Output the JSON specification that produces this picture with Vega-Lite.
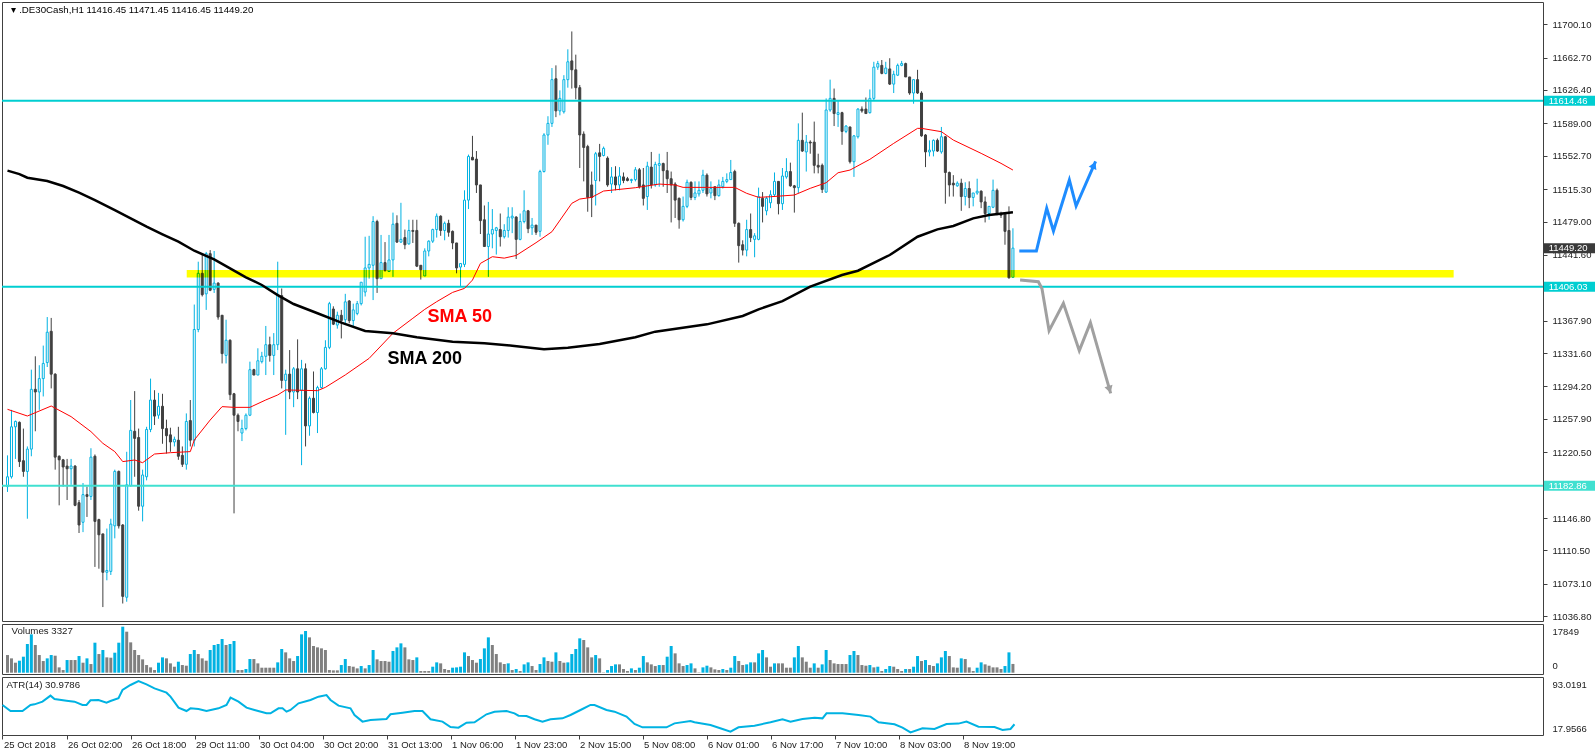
{
"$schema":"https://vega.github.io/schema/vega-lite/v6.json",
"background":"white",
"padding":{"left":-2,"top":1,"right":0,"bottom":0},
"spacing":3,
"bounds":"flush",
"config":{"font":"Liberation Sans","view":{"stroke":"#404040","strokeWidth":1},"axis":{"labelFont":"Liberation Sans","labelColor":"#1a1a1a"}},
"datasets":{
"candles":[
{"i":0,"o":11182,"h":11217,"l":11176,"c":11193,"v":6715},
{"i":1,"o":11193,"h":11268,"l":11191,"c":11249,"v":5448},
{"i":2,"o":11249,"h":11256,"l":11213,"c":11255,"v":3801},
{"i":3,"o":11254,"h":11255,"l":11204,"c":11210,"v":4561},
{"i":4,"o":11211,"h":11247,"l":11193,"c":11199,"v":6082},
{"i":5,"o":11199,"h":11227,"l":11146,"c":11224,"v":10896},
{"i":6,"o":11224,"h":11313,"l":11216,"c":11291,"v":14571},
{"i":7,"o":11291,"h":11328,"l":11244,"c":11288,"v":10516},
{"i":8,"o":11288,"h":11318,"l":11268,"c":11303,"v":6715},
{"i":9,"o":11303,"h":11340,"l":11283,"c":11320,"v":4435},
{"i":10,"o":11321,"h":11372,"l":11316,"c":11355,"v":5448},
{"i":11,"o":11356,"h":11371,"l":11292,"c":11308,"v":6715},
{"i":12,"o":11308,"h":11309,"l":11201,"c":11215,"v":6462},
{"i":13,"o":11216,"h":11217,"l":11161,"c":11212,"v":2027},
{"i":14,"o":11212,"h":11213,"l":11182,"c":11204,"v":1014},
{"i":15,"o":11205,"h":11213,"l":11167,"c":11202,"v":4815},
{"i":16,"o":11202,"h":11213,"l":11184,"c":11205,"v":4815},
{"i":17,"o":11205,"h":11206,"l":11160,"c":11161,"v":4815},
{"i":18,"o":11164,"h":11167,"l":11130,"c":11139,"v":6335},
{"i":19,"o":11142,"h":11186,"l":11131,"c":11173,"v":3801},
{"i":20,"o":11173,"h":11182,"l":11148,"c":11171,"v":5448},
{"i":21,"o":11171,"h":11225,"l":11167,"c":11215,"v":3294},
{"i":22,"o":11216,"h":11218,"l":11092,"c":11143,"v":11403},
{"i":23,"o":11145,"h":11146,"l":11090,"c":11128,"v":7095},
{"i":24,"o":11129,"h":11129,"l":11047,"c":11086,"v":8616},
{"i":25,"o":11086,"h":11135,"l":11077,"c":11088,"v":5828},
{"i":26,"o":11087,"h":11146,"l":11083,"c":11140,"v":5702},
{"i":27,"o":11138,"h":11201,"l":11124,"c":11199,"v":7602},
{"i":28,"o":11199,"h":11200,"l":11135,"c":11138,"v":11403},
{"i":29,"o":11139,"h":11140,"l":11051,"c":11059,"v":17485},
{"i":30,"o":11058,"h":11221,"l":11053,"c":11184,"v":15584},
{"i":31,"o":11183,"h":11279,"l":11182,"c":11245,"v":11530},
{"i":32,"o":11244,"h":11289,"l":11193,"c":11236,"v":8616},
{"i":33,"o":11237,"h":11247,"l":11155,"c":11160,"v":6715},
{"i":34,"o":11160,"h":11201,"l":11143,"c":11195,"v":5068},
{"i":35,"o":11193,"h":11249,"l":11189,"c":11246,"v":2914},
{"i":36,"o":11246,"h":11303,"l":11243,"c":11279,"v":2027},
{"i":37,"o":11279,"h":11290,"l":11251,"c":11261,"v":1014},
{"i":38,"o":11262,"h":11287,"l":11258,"c":11272,"v":3801},
{"i":39,"o":11272,"h":11286,"l":11230,"c":11247,"v":5828},
{"i":40,"o":11247,"h":11257,"l":11219,"c":11239,"v":5448},
{"i":41,"o":11240,"h":11248,"l":11221,"c":11232,"v":3548},
{"i":42,"o":11232,"h":11238,"l":11227,"c":11235,"v":2281},
{"i":43,"o":11234,"h":11249,"l":11212,"c":11216,"v":4181},
{"i":44,"o":11217,"h":11227,"l":11204,"c":11207,"v":2914},
{"i":45,"o":11207,"h":11264,"l":11201,"c":11255,"v":2661},
{"i":46,"o":11256,"h":11279,"l":11227,"c":11234,"v":7095},
{"i":47,"o":11234,"h":11386,"l":11227,"c":11358,"v":8616},
{"i":48,"o":11358,"h":11434,"l":11355,"c":11421,"v":7095},
{"i":49,"o":11421,"h":11443,"l":11395,"c":11397,"v":5448},
{"i":50,"o":11398,"h":11445,"l":11380,"c":11443,"v":4561},
{"i":51,"o":11443,"h":11447,"l":11401,"c":11402,"v":8616},
{"i":52,"o":11403,"h":11446,"l":11399,"c":11410,"v":10516},
{"i":53,"o":11410,"h":11411,"l":11369,"c":11372,"v":10896},
{"i":54,"o":11374,"h":11374,"l":11320,"c":11331,"v":12797},
{"i":55,"o":11329,"h":11369,"l":11320,"c":11346,"v":10516},
{"i":56,"o":11346,"h":11347,"l":11279,"c":11285,"v":10896},
{"i":57,"o":11286,"h":11287,"l":11152,"c":11262,"v":12037},
{"i":58,"o":11262,"h":11264,"l":11244,"c":11255,"v":1014},
{"i":59,"o":11242,"h":11257,"l":11233,"c":11247,"v":1014},
{"i":60,"o":11247,"h":11264,"l":11245,"c":11262,"v":1394},
{"i":61,"o":11262,"h":11322,"l":11261,"c":11313,"v":5195},
{"i":62,"o":11313,"h":11314,"l":11307,"c":11307,"v":5195},
{"i":63,"o":11307,"h":11337,"l":11307,"c":11323,"v":3548},
{"i":64,"o":11322,"h":11333,"l":11320,"c":11328,"v":1901},
{"i":65,"o":11328,"h":11362,"l":11307,"c":11341,"v":1901},
{"i":66,"o":11341,"h":11350,"l":11322,"c":11329,"v":1901},
{"i":67,"o":11329,"h":11354,"l":11307,"c":11341,"v":1901},
{"i":68,"o":11341,"h":11434,"l":11335,"c":11397,"v":3928},
{"i":69,"o":11396,"h":11404,"l":11292,"c":11301,"v":8996},
{"i":70,"o":11301,"h":11313,"l":11240,"c":11308,"v":7729},
{"i":71,"o":11308,"h":11335,"l":11280,"c":11288,"v":5448},
{"i":72,"o":11288,"h":11316,"l":11271,"c":11314,"v":4435},
{"i":73,"o":11314,"h":11347,"l":11280,"c":11288,"v":6335},
{"i":74,"o":11290,"h":11324,"l":11206,"c":11314,"v":14571},
{"i":75,"o":11314,"h":11320,"l":11227,"c":11250,"v":15838},
{"i":76,"o":11250,"h":11283,"l":11239,"c":11281,"v":13430},
{"i":77,"o":11281,"h":11311,"l":11264,"c":11265,"v":10136},
{"i":78,"o":11265,"h":11295,"l":11242,"c":11293,"v":9629},
{"i":79,"o":11293,"h":11316,"l":11292,"c":11314,"v":9249},
{"i":80,"o":11314,"h":11346,"l":11313,"c":11338,"v":8616},
{"i":81,"o":11338,"h":11389,"l":11336,"c":11387,"v":1014},
{"i":82,"o":11381,"h":11384,"l":11363,"c":11364,"v":887},
{"i":83,"o":11363,"h":11378,"l":11359,"c":11374,"v":887},
{"i":84,"o":11374,"h":11380,"l":11348,"c":11368,"v":2914},
{"i":85,"o":11369,"h":11398,"l":11365,"c":11389,"v":5195},
{"i":86,"o":11390,"h":11391,"l":11365,"c":11368,"v":2534},
{"i":87,"o":11368,"h":11387,"l":11361,"c":11380,"v":2281},
{"i":88,"o":11376,"h":11390,"l":11374,"c":11387,"v":1647},
{"i":89,"o":11387,"h":11411,"l":11385,"c":11411,"v":2534},
{"i":90,"o":11400,"h":11462,"l":11395,"c":11427,"v":1647},
{"i":91,"o":11427,"h":11463,"l":11415,"c":11431,"v":2914},
{"i":92,"o":11430,"h":11485,"l":11391,"c":11479,"v":8616},
{"i":93,"o":11479,"h":11481,"l":11399,"c":11415,"v":5068},
{"i":94,"o":11415,"h":11464,"l":11415,"c":11433,"v":4435},
{"i":95,"o":11433,"h":11456,"l":11423,"c":11424,"v":4435},
{"i":96,"o":11423,"h":11464,"l":11423,"c":11436,"v":4181},
{"i":97,"o":11436,"h":11489,"l":11417,"c":11476,"v":8236},
{"i":98,"o":11477,"h":11486,"l":11455,"c":11456,"v":9629},
{"i":99,"o":11456,"h":11500,"l":11455,"c":11459,"v":11150},
{"i":100,"o":11461,"h":11470,"l":11448,"c":11453,"v":9629},
{"i":101,"o":11454,"h":11481,"l":11453,"c":11469,"v":5068},
{"i":102,"o":11469,"h":11481,"l":11455,"c":11468,"v":4815},
{"i":103,"o":11469,"h":11481,"l":11428,"c":11429,"v":5828},
{"i":104,"o":11430,"h":11430,"l":11414,"c":11425,"v":634},
{"i":105,"o":11418,"h":11449,"l":11418,"c":11446,"v":634},
{"i":106,"o":11446,"h":11458,"l":11440,"c":11457,"v":634},
{"i":107,"o":11457,"h":11471,"l":11455,"c":11470,"v":2281},
{"i":108,"o":11470,"h":11488,"l":11461,"c":11485,"v":3928},
{"i":109,"o":11485,"h":11486,"l":11463,"c":11469,"v":3548},
{"i":110,"o":11469,"h":11479,"l":11458,"c":11477,"v":1394},
{"i":111,"o":11477,"h":11481,"l":11462,"c":11467,"v":1014},
{"i":112,"o":11468,"h":11469,"l":11448,"c":11455,"v":1901},
{"i":113,"o":11455,"h":11455,"l":11421,"c":11427,"v":2027},
{"i":114,"o":11428,"h":11432,"l":11406,"c":11432,"v":2281},
{"i":115,"o":11431,"h":11514,"l":11428,"c":11503,"v":7729},
{"i":116,"o":11503,"h":11554,"l":11493,"c":11552,"v":6335},
{"i":117,"o":11551,"h":11575,"l":11548,"c":11548,"v":4815},
{"i":118,"o":11549,"h":11558,"l":11511,"c":11520,"v":3801},
{"i":119,"o":11520,"h":11520,"l":11465,"c":11480,"v":5195},
{"i":120,"o":11481,"h":11497,"l":11451,"c":11451,"v":9249},
{"i":121,"o":11451,"h":11501,"l":11417,"c":11465,"v":13430},
{"i":122,"o":11465,"h":11493,"l":11449,"c":11470,"v":10516},
{"i":123,"o":11469,"h":11473,"l":11442,"c":11472,"v":7095},
{"i":124,"o":11470,"h":11488,"l":11451,"c":11462,"v":3928},
{"i":125,"o":11462,"h":11476,"l":11460,"c":11469,"v":3294},
{"i":126,"o":11469,"h":11495,"l":11461,"c":11484,"v":3548},
{"i":127,"o":11483,"h":11495,"l":11466,"c":11485,"v":1014},
{"i":128,"o":11484,"h":11485,"l":11437,"c":11459,"v":1394},
{"i":129,"o":11459,"h":11488,"l":11458,"c":11479,"v":634},
{"i":130,"o":11479,"h":11514,"l":11477,"c":11491,"v":3168},
{"i":131,"o":11491,"h":11492,"l":11466,"c":11471,"v":3928},
{"i":132,"o":11472,"h":11483,"l":11464,"c":11475,"v":2534},
{"i":133,"o":11475,"h":11475,"l":11464,"c":11467,"v":1014},
{"i":134,"o":11468,"h":11537,"l":11462,"c":11535,"v":3294},
{"i":135,"o":11535,"h":11578,"l":11534,"c":11576,"v":5828},
{"i":136,"o":11576,"h":11597,"l":11565,"c":11589,"v":4435},
{"i":137,"o":11589,"h":11651,"l":11585,"c":11638,"v":4181},
{"i":138,"o":11639,"h":11654,"l":11596,"c":11603,"v":7729},
{"i":139,"o":11603,"h":11626,"l":11598,"c":11617,"v":4435},
{"i":140,"o":11602,"h":11643,"l":11600,"c":11638,"v":3801},
{"i":141,"o":11638,"h":11672,"l":11629,"c":11658,"v":3928},
{"i":142,"o":11659,"h":11692,"l":11628,"c":11649,"v":7095},
{"i":143,"o":11649,"h":11666,"l":11616,"c":11629,"v":8996},
{"i":144,"o":11629,"h":11632,"l":11539,"c":11576,"v":13050},
{"i":145,"o":11577,"h":11580,"l":11524,"c":11562,"v":12417},
{"i":146,"o":11563,"h":11565,"l":11490,"c":11506,"v":9629},
{"i":147,"o":11520,"h":11535,"l":11484,"c":11506,"v":5828},
{"i":148,"o":11525,"h":11557,"l":11497,"c":11555,"v":6715},
{"i":149,"o":11556,"h":11566,"l":11524,"c":11552,"v":5448},
{"i":150,"o":11553,"h":11563,"l":11552,"c":11561,"v":127},
{"i":151,"o":11550,"h":11552,"l":11518,"c":11520,"v":1014},
{"i":152,"o":11521,"h":11540,"l":11511,"c":11529,"v":2534},
{"i":153,"o":11529,"h":11541,"l":11514,"c":11520,"v":3168},
{"i":154,"o":11520,"h":11540,"l":11514,"c":11530,"v":3168},
{"i":155,"o":11529,"h":11534,"l":11522,"c":11525,"v":1394},
{"i":156,"o":11527,"h":11529,"l":11524,"c":11525,"v":634},
{"i":157,"o":11525,"h":11527,"l":11522,"c":11526,"v":1647},
{"i":158,"o":11526,"h":11540,"l":11524,"c":11537,"v":1014},
{"i":159,"o":11537,"h":11539,"l":11516,"c":11518,"v":1901},
{"i":160,"o":11520,"h":11539,"l":11497,"c":11505,"v":6335},
{"i":161,"o":11507,"h":11546,"l":11492,"c":11541,"v":3928},
{"i":162,"o":11540,"h":11557,"l":11516,"c":11520,"v":3168},
{"i":163,"o":11520,"h":11546,"l":11518,"c":11543,"v":2534},
{"i":164,"o":11542,"h":11555,"l":11518,"c":11544,"v":2914},
{"i":165,"o":11544,"h":11545,"l":11518,"c":11536,"v":2914},
{"i":166,"o":11536,"h":11557,"l":11511,"c":11527,"v":6082},
{"i":167,"o":11527,"h":11535,"l":11478,"c":11520,"v":10136},
{"i":168,"o":11521,"h":11523,"l":11483,"c":11503,"v":7349},
{"i":169,"o":11505,"h":11506,"l":11471,"c":11481,"v":3548},
{"i":170,"o":11481,"h":11507,"l":11479,"c":11496,"v":2534},
{"i":171,"o":11496,"h":11526,"l":11494,"c":11523,"v":2914},
{"i":172,"o":11523,"h":11524,"l":11503,"c":11506,"v":3548},
{"i":173,"o":11506,"h":11524,"l":11503,"c":11511,"v":1647},
{"i":174,"o":11510,"h":11524,"l":11507,"c":11514,"v":127},
{"i":175,"o":11514,"h":11537,"l":11511,"c":11531,"v":2027},
{"i":176,"o":11531,"h":11533,"l":11507,"c":11510,"v":2661},
{"i":177,"o":11511,"h":11524,"l":11505,"c":11516,"v":2027},
{"i":178,"o":11518,"h":11518,"l":11503,"c":11508,"v":1267},
{"i":179,"o":11508,"h":11526,"l":11507,"c":11520,"v":1014},
{"i":180,"o":11518,"h":11529,"l":11516,"c":11524,"v":1394},
{"i":181,"o":11524,"h":11533,"l":11522,"c":11526,"v":1014},
{"i":182,"o":11526,"h":11548,"l":11526,"c":11534,"v":1901},
{"i":183,"o":11535,"h":11537,"l":11473,"c":11477,"v":6335},
{"i":184,"o":11477,"h":11478,"l":11433,"c":11452,"v":4435},
{"i":185,"o":11453,"h":11458,"l":11441,"c":11447,"v":2914},
{"i":186,"o":11447,"h":11481,"l":11440,"c":11470,"v":3168},
{"i":187,"o":11470,"h":11488,"l":11456,"c":11461,"v":3928},
{"i":188,"o":11459,"h":11466,"l":11439,"c":11463,"v":3928},
{"i":189,"o":11459,"h":11517,"l":11458,"c":11507,"v":7349},
{"i":190,"o":11505,"h":11512,"l":11478,"c":11496,"v":8616},
{"i":191,"o":11491,"h":11507,"l":11486,"c":11505,"v":5828},
{"i":192,"o":11500,"h":11514,"l":11494,"c":11509,"v":2281},
{"i":193,"o":11509,"h":11534,"l":11507,"c":11524,"v":3548},
{"i":194,"o":11524,"h":11524,"l":11487,"c":11499,"v":3548},
{"i":195,"o":11499,"h":11539,"l":11492,"c":11530,"v":3548},
{"i":196,"o":11529,"h":11550,"l":11527,"c":11535,"v":1901},
{"i":197,"o":11535,"h":11545,"l":11518,"c":11519,"v":1901},
{"i":198,"o":11519,"h":11520,"l":11489,"c":11517,"v":5828},
{"i":199,"o":11517,"h":11589,"l":11511,"c":11570,"v":10136},
{"i":200,"o":11570,"h":11601,"l":11557,"c":11558,"v":5828},
{"i":201,"o":11557,"h":11576,"l":11535,"c":11568,"v":4181},
{"i":202,"o":11568,"h":11570,"l":11555,"c":11567,"v":1901},
{"i":203,"o":11568,"h":11591,"l":11533,"c":11542,"v":3548},
{"i":204,"o":11542,"h":11555,"l":11533,"c":11540,"v":1901},
{"i":205,"o":11542,"h":11544,"l":11511,"c":11515,"v":3168},
{"i":206,"o":11512,"h":11617,"l":11511,"c":11604,"v":8616},
{"i":207,"o":11604,"h":11638,"l":11602,"c":11617,"v":4815},
{"i":208,"o":11617,"h":11628,"l":11586,"c":11600,"v":3548},
{"i":209,"o":11599,"h":11615,"l":11585,"c":11601,"v":3294},
{"i":210,"o":11601,"h":11602,"l":11565,"c":11580,"v":3294},
{"i":211,"o":11580,"h":11587,"l":11578,"c":11586,"v":3294},
{"i":212,"o":11585,"h":11585,"l":11544,"c":11546,"v":6715},
{"i":213,"o":11546,"h":11576,"l":11529,"c":11575,"v":8236},
{"i":214,"o":11574,"h":11606,"l":11572,"c":11605,"v":6715},
{"i":215,"o":11605,"h":11608,"l":11601,"c":11603,"v":2914},
{"i":216,"o":11605,"h":11618,"l":11600,"c":11600,"v":2661},
{"i":217,"o":11601,"h":11627,"l":11600,"c":11617,"v":2914},
{"i":218,"o":11617,"h":11658,"l":11615,"c":11652,"v":2027},
{"i":219,"o":11652,"h":11659,"l":11649,"c":11656,"v":2281},
{"i":220,"o":11654,"h":11660,"l":11644,"c":11645,"v":634},
{"i":221,"o":11645,"h":11658,"l":11644,"c":11651,"v":1394},
{"i":222,"o":11650,"h":11662,"l":11632,"c":11633,"v":2534},
{"i":223,"o":11633,"h":11648,"l":11623,"c":11644,"v":2281},
{"i":224,"o":11643,"h":11656,"l":11642,"c":11654,"v":1394},
{"i":225,"o":11654,"h":11659,"l":11653,"c":11656,"v":634},
{"i":226,"o":11656,"h":11657,"l":11641,"c":11641,"v":1394},
{"i":227,"o":11641,"h":11641,"l":11621,"c":11623,"v":1394},
{"i":228,"o":11623,"h":11638,"l":11611,"c":11638,"v":2281},
{"i":229,"o":11638,"h":11649,"l":11622,"c":11623,"v":6335},
{"i":230,"o":11623,"h":11625,"l":11574,"c":11575,"v":4435},
{"i":231,"o":11576,"h":11577,"l":11540,"c":11557,"v":4815},
{"i":232,"o":11557,"h":11570,"l":11552,"c":11559,"v":2914},
{"i":233,"o":11558,"h":11571,"l":11552,"c":11570,"v":2534},
{"i":234,"o":11570,"h":11572,"l":11557,"c":11558,"v":3548},
{"i":235,"o":11557,"h":11585,"l":11555,"c":11574,"v":5828},
{"i":236,"o":11574,"h":11575,"l":11499,"c":11534,"v":8236},
{"i":237,"o":11534,"h":11535,"l":11507,"c":11520,"v":6335},
{"i":238,"o":11522,"h":11531,"l":11507,"c":11520,"v":2027},
{"i":239,"o":11519,"h":11524,"l":11518,"c":11522,"v":1901},
{"i":240,"o":11522,"h":11527,"l":11491,"c":11507,"v":5448},
{"i":241,"o":11507,"h":11523,"l":11497,"c":11516,"v":5195},
{"i":242,"o":11516,"h":11524,"l":11494,"c":11506,"v":2027},
{"i":243,"o":11506,"h":11511,"l":11496,"c":11511,"v":634},
{"i":244,"o":11511,"h":11527,"l":11509,"c":11513,"v":1901},
{"i":245,"o":11513,"h":11514,"l":11494,"c":11501,"v":3928},
{"i":246,"o":11501,"h":11507,"l":11478,"c":11488,"v":3168},
{"i":247,"o":11488,"h":11496,"l":11481,"c":11496,"v":2661},
{"i":248,"o":11495,"h":11526,"l":11494,"c":11514,"v":2027},
{"i":249,"o":11514,"h":11516,"l":11486,"c":11488,"v":2027},
{"i":250,"o":11488,"h":11490,"l":11483,"c":11486,"v":1394},
{"i":251,"o":11488,"h":11488,"l":11453,"c":11468,"v":2534},
{"i":252,"o":11469,"h":11496,"l":11415,"c":11416,"v":7729},
{"i":253,"o":11416.45,"h":11471.45,"l":11416.45,"c":11449.2,"v":3327}
],
"sma50":[
{"i":0,"p":11268.6},{"i":5,"p":11261.1},{"i":11,"p":11272.3},{"i":16,"p":11260.4},{"i":21,"p":11243.6},{"i":24,"p":11230.5},{"i":27,"p":11221.2},{"i":29,"p":11210.0},{"i":32,"p":11211.8},{"i":34,"p":11208.8},{"i":37,"p":11218.5},{"i":41,"p":11220.0},{"i":46,"p":11221.2},{"i":47,"p":11234.2},{"i":51,"p":11256.6},{"i":54,"p":11271.6},{"i":57,"p":11270.8},{"i":61,"p":11270.8},{"i":65,"p":11279.1},{"i":68,"p":11284.7},{"i":70,"p":11290.3},{"i":78,"p":11289.5},{"i":80,"p":11293.2},{"i":85,"p":11307.1},{"i":91,"p":11325.7},{"i":97,"p":11353.8},{"i":102,"p":11370.6},{"i":105,"p":11380.6},{"i":108,"p":11389.2},{"i":112,"p":11399.6},{"i":115,"p":11404.1},{"i":117,"p":11413.4},{"i":119,"p":11432.1},{"i":122,"p":11439.6},{"i":125,"p":11438.0},{"i":128,"p":11441.0},{"i":133,"p":11455.3},{"i":137,"p":11467.6},{"i":142,"p":11499.4},{"i":144,"p":11504.2},{"i":147,"p":11506.1},{"i":150,"p":11513.2},{"i":158,"p":11516.9},{"i":164,"p":11521.0},{"i":168,"p":11519.9},{"i":170,"p":11517.3},{"i":183,"p":11517.3},{"i":186,"p":11510.6},{"i":189,"p":11506.1},{"i":192,"p":11506.8},{"i":198,"p":11508.7},{"i":202,"p":11516.2},{"i":206,"p":11522.5},{"i":209,"p":11533.7},{"i":212,"p":11536.7},{"i":217,"p":11548.7},{"i":223,"p":11566.6},{"i":229,"p":11583.4},{"i":230,"p":11583.4},{"i":235,"p":11579.7},{"i":238,"p":11570.3},{"i":245,"p":11555.4},{"i":250,"p":11544.2},{"i":253,"p":11536.7}
],
"sma200":[
{"i":0,"p":11536.0},{"i":3,"p":11532.2},{"i":5,"p":11528.1},{"i":10,"p":11524.4},{"i":14,"p":11518.8},{"i":18,"p":11511.3},{"i":22,"p":11503.1},{"i":27,"p":11491.9},{"i":31,"p":11482.6},{"i":35,"p":11473.2},{"i":39,"p":11464.6},{"i":43,"p":11456.4},{"i":47,"p":11446.3},{"i":52,"p":11436.6},{"i":56,"p":11426.5},{"i":60,"p":11416.5},{"i":64,"p":11407.9},{"i":68,"p":11396.6},{"i":72,"p":11386.6},{"i":78,"p":11376.2},{"i":84,"p":11365.7},{"i":90,"p":11356.4},{"i":97,"p":11353.8},{"i":103,"p":11349.3},{"i":112,"p":11344.4},{"i":120,"p":11342.5},{"i":127,"p":11339.9},{"i":135,"p":11335.8},{"i":141,"p":11337.7},{"i":149,"p":11341.8},{"i":158,"p":11349.3},{"i":163,"p":11355.6},{"i":176,"p":11363.8},{"i":185,"p":11373.2},{"i":189,"p":11380.6},{"i":195,"p":11389.9},{"i":202,"p":11406.0},{"i":210,"p":11419.1},{"i":214,"p":11423.9},{"i":222,"p":11441.5},{"i":229,"p":11462.0},{"i":234,"p":11470.2},{"i":238,"p":11474.0},{"i":243,"p":11482.6},{"i":247,"p":11486.3},{"i":252,"p":11488.9},{"i":253,"p":11489.5}
],
"atr":[
{"i":0,"a":58.1},{"i":2,"a":49.3},{"i":5,"a":49.3},{"i":7,"a":58.1},{"i":8,"a":59.0},{"i":10,"a":62.9},{"i":12,"a":71.7},{"i":13,"a":66.8},{"i":16,"a":64.4},{"i":18,"a":62.9},{"i":20,"a":58.1},{"i":21,"a":58.1},{"i":22,"a":64.9},{"i":24,"a":65.4},{"i":26,"a":61.5},{"i":27,"a":63.9},{"i":29,"a":67.8},{"i":30,"a":79.9},{"i":32,"a":87.2},{"i":34,"a":93.0},{"i":36,"a":88.2},{"i":38,"a":82.3},{"i":41,"a":76.0},{"i":42,"a":70.2},{"i":44,"a":54.2},{"i":46,"a":49.3},{"i":47,"a":53.2},{"i":49,"a":52.2},{"i":51,"a":49.3},{"i":54,"a":53.2},{"i":56,"a":58.1},{"i":57,"a":68.7},{"i":59,"a":62.9},{"i":61,"a":54.2},{"i":63,"a":50.8},{"i":66,"a":45.9},{"i":67,"a":45.9},{"i":69,"a":53.2},{"i":70,"a":53.2},{"i":71,"a":48.3},{"i":72,"a":50.8},{"i":74,"a":60.5},{"i":77,"a":65.4},{"i":79,"a":70.2},{"i":81,"a":72.6},{"i":82,"a":65.4},{"i":84,"a":57.1},{"i":87,"a":53.2},{"i":88,"a":43.5},{"i":90,"a":33.8},{"i":92,"a":36.2},{"i":96,"a":37.7},{"i":97,"a":44.5},{"i":100,"a":46.9},{"i":103,"a":49.3},{"i":105,"a":49.3},{"i":107,"a":37.2},{"i":110,"a":33.8},{"i":112,"a":26.0},{"i":114,"a":25.0},{"i":116,"a":32.3},{"i":118,"a":32.8},{"i":121,"a":44.5},{"i":123,"a":48.3},{"i":126,"a":49.3},{"i":128,"a":45.9},{"i":129,"a":42.5},{"i":131,"a":42.0},{"i":133,"a":37.2},{"i":135,"a":33.8},{"i":137,"a":37.2},{"i":140,"a":38.6},{"i":142,"a":43.5},{"i":145,"a":52.2},{"i":147,"a":58.1},{"i":148,"a":58.1},{"i":151,"a":50.8},{"i":153,"a":48.3},{"i":156,"a":41.1},{"i":158,"a":30.4},{"i":160,"a":25.5},{"i":166,"a":25.5},{"i":168,"a":31.3},{"i":172,"a":34.7},{"i":173,"a":32.8},{"i":177,"a":28.9},{"i":180,"a":23.1},{"i":182,"a":19.2},{"i":184,"a":25.5},{"i":188,"a":27.9},{"i":192,"a":32.8},{"i":195,"a":37.2},{"i":197,"a":33.8},{"i":200,"a":37.7},{"i":203,"a":39.6},{"i":205,"a":38.6},{"i":206,"a":45.9},{"i":210,"a":45.9},{"i":214,"a":43.5},{"i":217,"a":41.1},{"i":219,"a":32.8},{"i":223,"a":29.9},{"i":225,"a":25.0},{"i":227,"a":18.0},{"i":230,"a":24.1},{"i":233,"a":23.1},{"i":236,"a":30.4},{"i":239,"a":30.9},{"i":241,"a":33.8},{"i":244,"a":26.5},{"i":248,"a":26.0},{"i":250,"a":21.6},{"i":252,"a":23.1},{"i":253,"a":30.0}
],
"blue":[{"i":254.6,"p":11446},{"i":258.9,"p":11446},{"i":261.5,"p":11493.8},{"i":263.2,"p":11468.4},{"i":267.2,"p":11525.5},{"i":268.9,"p":11496.4},{"i":273.8,"p":11546.4}],
"gray":[{"i":254.8,"p":11413.5},{"i":259.4,"p":11411.6},{"i":260.3,"p":11404},{"i":262.1,"p":11356.7},{"i":265.7,"p":11387.4},{"i":269.7,"p":11334.3},{"i":272.5,"p":11365.7},{"i":277.6,"p":11286.5}]
},
"vconcat":[
{
"width":1541,"height":619,
"resolve":{"axis":{"x":"independent","y":"independent"}},
"layer":[
{"data":{"name":"candles"},"mark":{"type":"rule","strokeWidth":1},
 "encoding":{
  "x":{"field":"i","type":"quantitative","scale":{"domain":[-0.125,385.125],"nice":false,"zero":false},"axis":null},
  "y":{"field":"l","type":"quantitative","scale":{"domain":[11031.4,11725.0],"nice":false,"zero":false},
   "axis":{"orient":"right","title":null,"values":[11700.1,11662.7,11626.4,11589.0,11552.7,11515.3,11479.0,11441.6,11367.9,11331.6,11294.2,11257.9,11220.5,11146.8,11110.5,11073.1,11036.8],"format":".2f","domain":false,"grid":false,"ticks":true,"tickSize":4,"tickColor":"#404040","labelFontSize":9.5,"labelPadding":5,"labelOverlap":false,"labelBound":false}},
  "y2":{"field":"h"},
  "color":{"condition":{"test":"datum.c >= datum.o","value":"#00B2E2"},"value":"#404040"}}},
{"data":{"name":"candles"},"mark":{"type":"bar","width":2,"strokeWidth":1},
 "encoding":{
  "x":{"field":"i","type":"quantitative","axis":null},
  "y":{"field":"o","type":"quantitative","axis":null},
  "y2":{"field":"c"},
  "fill":{"condition":{"test":"datum.c >= datum.o","value":"#ffffff"},"value":"#404040"},
  "stroke":{"condition":{"test":"datum.c >= datum.o","value":"#00B2E2"},"value":"#404040"}}},
{"data":{"values":[{}]},"mark":{"type":"rule","color":"#00CED1","strokeWidth":2},"encoding":{"y":{"datum":11614.46,"axis":null}}},
{"data":{"values":[{}]},"mark":{"type":"rule","color":"#00CED1","strokeWidth":2},"encoding":{"y":{"datum":11406.03,"axis":null}}},
{"data":{"values":[{}]},"mark":{"type":"rule","color":"#40E0D0","strokeWidth":2},"encoding":{"y":{"datum":11182.86,"axis":null}}},
{"data":{"name":"sma50"},"mark":{"type":"line","color":"#FF0000","strokeWidth":1},
 "encoding":{"x":{"field":"i","type":"quantitative","axis":null},"y":{"field":"p","type":"quantitative","axis":null}}},
{"data":{"name":"sma200"},"mark":{"type":"line","color":"#000000","strokeWidth":2.5},
 "encoding":{"x":{"field":"i","type":"quantitative","axis":null},"y":{"field":"p","type":"quantitative","axis":null}}},
{"data":{"values":[{}]},"mark":{"type":"rect","color":"#FFFF00","blend":"multiply"},
 "encoding":{"x":{"datum":45.1,"axis":null},"x2":{"datum":363.9},"y":{"datum":11424.7,"axis":null},"y2":{"datum":11416.4}}},
{"data":{"values":[{}]},"mark":{"type":"text","text":"SMA 50","font":"Liberation Sans","fontWeight":"bold","fontSize":18,"color":"#FF0000"},
 "encoding":{"x":{"datum":113.8,"axis":null},"y":{"datum":11371.7,"axis":null}}},
{"data":{"values":[{}]},"mark":{"type":"text","text":"SMA 200","font":"Liberation Sans","fontWeight":"bold","fontSize":18,"color":"#000000"},
 "encoding":{"x":{"datum":105,"axis":null},"y":{"datum":11324.6,"axis":null}}},
{"data":{"name":"blue"},"mark":{"type":"line","color":"#1E8CFF","strokeWidth":3},
 "encoding":{"x":{"field":"i","type":"quantitative","axis":null},"y":{"field":"p","type":"quantitative","axis":null}}},
{"data":{"name":"gray"},"mark":{"type":"line","color":"#A0A0A0","strokeWidth":3},
 "encoding":{"x":{"field":"i","type":"quantitative","axis":null},"y":{"field":"p","type":"quantitative","axis":null}}},
{"data":{"values":[{}]},"mark":{"type":"point","shape":"triangle-up","angle":24,"size":70,"filled":true,"color":"#1E8CFF","opacity":1},
 "encoding":{"x":{"datum":273.4,"axis":null},"y":{"datum":11542.3,"axis":null}}},
{"data":{"values":[{}]},"mark":{"type":"point","shape":"triangle-down","angle":344,"size":70,"filled":true,"color":"#A0A0A0","opacity":1},
 "encoding":{"x":{"datum":277.3,"axis":null},"y":{"datum":11290.8,"axis":null}}},
{"data":{"values":[{}]},"mark":{"type":"text","text":"▾ .DE30Cash,H1  11416.45 11471.45 11416.45 11449.20","align":"left","baseline":"middle","fontSize":9.7,"color":"#000000"},
 "encoding":{"x":{"datum":1,"axis":null},"y":{"datum":11716,"axis":null}}},
{"data":{"values":[{"p":11614.46},{"p":11406.03}]},"mark":{"type":"rect","color":"#00CED1","yOffset":-5,"y2Offset":5},
 "encoding":{"x":{"datum":386.6,"axis":null},"x2":{"datum":400},"y":{"field":"p","type":"quantitative","axis":null},"y2":{"field":"p"}}},
{"data":{"values":[{"p":11182.86}]},"mark":{"type":"rect","color":"#40E0D0","yOffset":-5,"y2Offset":5},
 "encoding":{"x":{"datum":386.6,"axis":null},"x2":{"datum":400},"y":{"field":"p","type":"quantitative","axis":null},"y2":{"field":"p"}}},
{"data":{"values":[{"p":11449.2}]},"mark":{"type":"rect","color":"#3a3a3a","yOffset":-5,"y2Offset":5},
 "encoding":{"x":{"datum":386.6,"axis":null},"x2":{"datum":400},"y":{"field":"p","type":"quantitative","axis":null},"y2":{"field":"p"}}},
{"data":{"values":[{"p":11614.46,"t":"11614.46"},{"p":11406.03,"t":"11406.03"},{"p":11182.86,"t":"11182.86"},{"p":11449.2,"t":"11449.20"}]},"mark":{"type":"text","align":"left","baseline":"middle","fontSize":9.5,"color":"#ffffff"},
 "encoding":{"x":{"datum":387.8,"axis":null},"y":{"field":"p","type":"quantitative","axis":null},"text":{"field":"t"}}}
]
},
{
"width":1541,"height":50,
"resolve":{"axis":{"x":"independent","y":"independent"}},
"layer":[
{"data":{"name":"candles"},"transform":[{"window":[{"op":"lag","field":"v","as":"pv"}],"sort":[{"field":"i"}]}],
 "mark":{"type":"bar","width":3},
 "encoding":{
  "x":{"field":"i","type":"quantitative","scale":{"domain":[-0.125,385.125],"nice":false,"zero":false},"axis":null},
  "y":{"field":"v","type":"quantitative","scale":{"domain":[-494,18506],"nice":false,"zero":false},
   "axis":{"orient":"right","title":null,"values":[15846,2926],"labelExpr":"datum.value > 9000 ? '17849' : '0'","ticks":false,"domain":false,"grid":false,"labelPadding":9,"labelFontSize":9.5,"labelOverlap":false,"labelBound":false}},
  "y2":{"datum":0},
  "color":{"condition":{"test":"datum.pv != null && datum.v > datum.pv","value":"#00B2E2"},"value":"#808080"}}},
{"data":{"values":[{}]},"mark":{"type":"text","text":"Volumes 3327","align":"left","baseline":"middle","fontSize":9.7,"color":"#202020"},
 "encoding":{"x":{"datum":1,"axis":null},"y":{"datum":15846,"axis":null}}}
]
},
{
"width":1541,"height":58,
"resolve":{"axis":{"x":"independent","y":"independent"}},
"layer":[
{"data":{"name":"atr"},"mark":{"type":"line","color":"#00B2E2","strokeWidth":2},
 "encoding":{
  "x":{"field":"i","type":"quantitative","scale":{"domain":[-0.125,385.125],"nice":false,"zero":false},
   "axis":{"orient":"bottom","title":null,"values":[0,16,32,48,64,80,96,112,128,144,160,176,192,208,224,240],"labelExpr":"['25 Oct 2018','26 Oct 02:00','26 Oct 18:00','29 Oct 11:00','30 Oct 04:00','30 Oct 20:00','31 Oct 13:00','1 Nov 06:00','1 Nov 23:00','2 Nov 15:00','5 Nov 08:00','6 Nov 01:00','6 Nov 17:00','7 Nov 10:00','8 Nov 03:00','8 Nov 19:00'][round(datum.value/16)]","labelAlign":"left","labelOffset":1,"tickSize":4,"tickColor":"#404040","labelPadding":0,"domain":false,"grid":false,"labelFontSize":9.5,"labelOverlap":false,"labelBound":false}},
  "y":{"field":"a","type":"quantitative","scale":{"domain":[14.31,98.85],"nice":false,"zero":false},
   "axis":{"orient":"right","title":null,"values":[87.2,24.5],"labelExpr":"datum.value > 50 ? '93.0191' : '17.9566'","ticks":false,"domain":false,"grid":false,"labelPadding":9,"labelFontSize":9.5,"labelOverlap":false,"labelBound":false}}}},
{"data":{"values":[{}]},"mark":{"type":"text","text":"ATR(14) 30.9786","align":"left","baseline":"middle","fontSize":9.7,"color":"#202020"},
 "encoding":{"x":{"datum":1,"axis":null},"y":{"datum":87.2,"axis":null}}}
]
}
]
}
